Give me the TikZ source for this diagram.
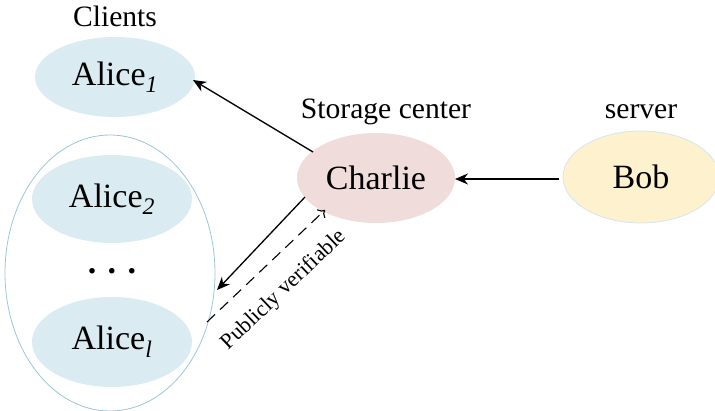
\documentclass[tikz,border=0pt]{standalone}
\usepackage{fontspec}
\setmainfont{Liberation Serif}
\usetikzlibrary{arrows.meta,shapes.geometric}
\definecolor{aliceblue}{HTML}{DAEBF2}
\definecolor{groupline}{HTML}{9CC6D6}
\definecolor{charliefill}{HTML}{EFDCDB}
\definecolor{bobfill}{HTML}{FEF1CD}
\definecolor{bobline}{HTML}{D5E6EE}
\tikzset{
  party/.style={ellipse, minimum width=160pt, minimum height=84pt, inner sep=0pt, font=\fontsize{34}{40}\selectfont},
  heading/.style={font=\fontsize{29.6}{34}\selectfont, inner sep=0pt},
  flow/.style={-{Stealth[length=13pt,width=11pt]}, line width=1.3pt},
  verify/.style={-{To[length=6pt,width=12pt]}, line width=1.1pt, dash pattern=on 11pt off 7pt},
}
\begin{document}
\begin{tikzpicture}[x=1pt,y=-1pt]
\useasboundingbox (0,0) rectangle (715,411);
\node[ellipse, draw=groupline, line width=0.8pt, minimum width=210pt, minimum height=276pt] (group) at (110,273) {};
\node[party, fill=aliceblue, minimum height=80pt] (a1) at (115,77) {Alice\textsubscript{\itshape 1}};
\node[party, fill=aliceblue, minimum height=88pt] (a2) at (112,199) {Alice\textsubscript{\itshape 2}};
\node[font=\fontsize{34}{40}\selectfont\bfseries, inner sep=0pt] (dots) at (112,271) {. . .};
\node[party, fill=aliceblue, minimum height=90pt] (al) at (112,342) {Alice\textsubscript{\itshape l}};
\node[party, fill=charliefill, minimum width=158pt, minimum height=90pt] (charlie) at (376,178) {Charlie};
\node[party, fill=bobfill, draw=bobline, line width=0.8pt, minimum width=156pt, minimum height=92pt] (bob) at (641,177) {Bob};
\node[heading] (clients) at (115,16) {Clients};
\node[heading] (storage) at (386,112) {Storage center};
\node[heading] (server) at (641,112) {server};
\coordinate (c1) at (313,152);
\coordinate (a1e) at (193,80);
\coordinate (c2) at (305,197);
\coordinate (g1) at (217,290);
\coordinate (g2) at (207,322);
\coordinate (c3) at (325,210);
\coordinate (be) at (559,179);
\coordinate (ce) at (455,179);
\draw[flow] (be) -- (ce);
\draw[flow] (c1) -- (a1e);
\draw[flow] (c2) -- (g1);
\draw[verify] (g2) -- (c3);
\node[font=\fontsize{22}{26}\selectfont, inner sep=0pt, rotate=43.5] (pv) at (284,290) {Publicly verifiable};
\end{tikzpicture}
\end{document}
